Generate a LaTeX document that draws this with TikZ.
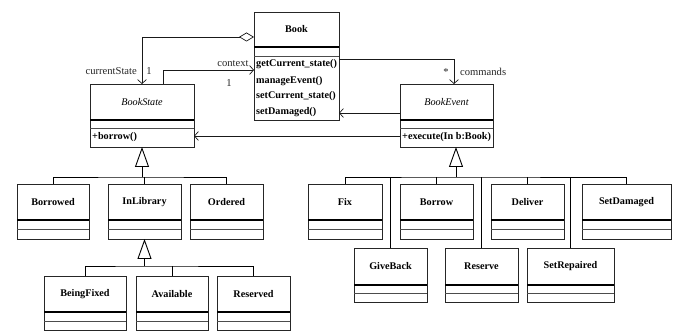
\documentclass[tikz,border=0pt]{standalone}
\usepackage{fontspec}
\setmainfont{Liberation Serif}
\usetikzlibrary{arrows.meta}
\tikzset{
  clsbox/.style={draw=black!85, line width=0.7pt, inner sep=0pt, outer sep=0pt},
  septhick/.style={draw=black, line width=1.8pt},
  septhin/.style={draw=black!70, line width=0.7pt},
  clsname/.style={font=\fontsize{10.2}{12}\selectfont\bfseries, inner sep=0pt},
  absname/.style={font=\fontsize{10.2}{12}\selectfont\itshape, inner sep=0pt},
  meth/.style={font=\fontsize{10.2}{12}\selectfont\bfseries, inner sep=0pt, anchor=west},
  lbl/.style={font=\fontsize{10.6}{12}\selectfont, inner sep=0pt, text=black!85},
  conn/.style={draw=black!90, line width=0.7pt},
  assoc/.style={conn, -{Straight Barb[length=4pt,width=9pt]}},
  agg/.style={conn, {Diamond[open,length=15pt,width=9pt]}-{Straight Barb[length=4pt,width=9pt]}},
  gen/.style={draw=black, line width=0.9pt, -{Triangle[open,length=20pt,width=14pt,line width=0.9pt]}},
  tree/.style={draw=black, line width=0.8pt}
}
\newcommand{\umlclass}[9][clsname]{%
  \node[clsbox, minimum width={(#4-#2)*1pt}, minimum height={(#5-#3)*1pt}, anchor=north west] (#7) at (#2,#3) {};
  \draw[septhick] (#2,#6) -- (#4,#6);
  \draw[septhin] (#2,#8) -- (#4,#8);
  \node[#1] (#7-name) at ({(#2+#4)/2},{(#3+#6)/2}) {#9};
}
\begin{document}
\begin{tikzpicture}[x=1pt,y=-1pt]
\useasboundingbox (0,0) rectangle (678,331);
% arguments: [style] x1 y1 x2 y2 ynamebottom name yattrbottom text
\umlclass{254}{12}{339}{120}{47}{book}{56}{Book}
\node[meth] (m1) at (256,64) {getCurrent\_state()};
\node[meth] (m2) at (256,81) {manageEvent()};
\node[meth] (m3) at (256,96) {setCurrent\_state()};
\node[meth] (m4) at (256,112) {setDamaged()};

\umlclass[absname]{90}{84}{194}{147}{120}{bookstate}{128}{BookState}
\node[meth] (bsm) at (92,137) {+borrow()};
\umlclass[absname]{400}{84}{493}{147}{120}{bookevent}{128}{BookEvent}
\node[meth] (bem) at (402,137) {+execute(In b:Book)};

% state subclasses
\umlclass{17}{184}{89}{239}{220}{borrowed}{229}{Borrowed}
\umlclass{108}{184}{181}{239}{220}{inlibrary}{229}{InLibrary}
\umlclass{190}{184}{263}{239}{220}{ordered}{229}{Ordered}
\umlclass{44}{276}{126}{330}{312}{beingfixed}{321}{BeingFixed}
\umlclass{136}{276}{208}{330}{312}{available}{321}{Available}
\umlclass{217}{276}{290}{330}{312}{reserved}{321}{Reserved}

% event subclasses
\umlclass{308}{184}{382}{239}{220}{fix}{229}{Fix}
\umlclass{400}{184}{473}{239}{220}{borrow}{229}{Borrow}
\umlclass{491}{184}{564}{239}{220}{deliver}{229}{Deliver}
\umlclass{582}{184}{671}{239}{220}{setdamaged}{229}{SetDamaged}
\umlclass{354}{248}{427}{302}{285}{giveback}{293}{GiveBack}
\umlclass{445}{248}{518}{302}{285}{reserve}{293}{Reserve}
\umlclass{527}{248}{614}{302}{285}{setrepaired}{293}{SetRepaired}

% associations
\draw[agg] ([yshift=-25pt]book.north west) -| (bookstate.north);
\node[lbl, anchor=east] (lcs) at (137,71) {currentState};
\node[lbl] (lone1) at (149,71) {1};
\draw[assoc] ([xshift=21pt]bookstate.north) |- (book.west |- 0,70);
\node[lbl] (lctx) at (233,64) {context};
\node[lbl] (lone2) at (229,83) {1};
\draw[assoc] (book.east |- 0,59) -| ([xshift=7.5pt]bookevent.north);
\node[lbl] (lstar) at (446,72) {*};
\node[lbl, anchor=west] (lcmd) at (460,72) {commands};
\draw[assoc] (bookevent.west |- 0,113) -- (book.east |- 0,113);
\draw[assoc] (bookevent.west |- 0,136) -- (bookstate.east |- 0,136);

% generalization: BookState
\coordinate (jS) at (142,177);
\draw[gen] (jS) -- (bookstate.south);
\draw[tree] (borrowed.north) |- (jS) -| (ordered.north);
\draw[tree] (inlibrary.north) -- (inlibrary.north |- jS);
% generalization: InLibrary
\coordinate (jI) at (144.5,266);
\draw[gen] (jI) -- (inlibrary.south);
\draw[tree] (beingfixed.north) |- (jI) -| (reserved.north);
\draw[tree] (available.north) -- (available.north |- jI);
% generalization: BookEvent
\coordinate (jE) at (456,177);
\draw[gen] (jE) -- ([xshift=9.5pt]bookevent.south);
\draw[tree] (fix.north) |- (jE) -| (setdamaged.north);
\draw[tree] (borrow.north) -- (borrow.north |- jE);
\draw[tree] (deliver.north) -- (deliver.north |- jE);
\draw[tree] (giveback.north) -- (giveback.north |- jE);
\draw[tree] (reserve.north) -- (reserve.north |- jE);
\draw[tree] (setrepaired.north) -- (setrepaired.north |- jE);
\end{tikzpicture}
\end{document}
